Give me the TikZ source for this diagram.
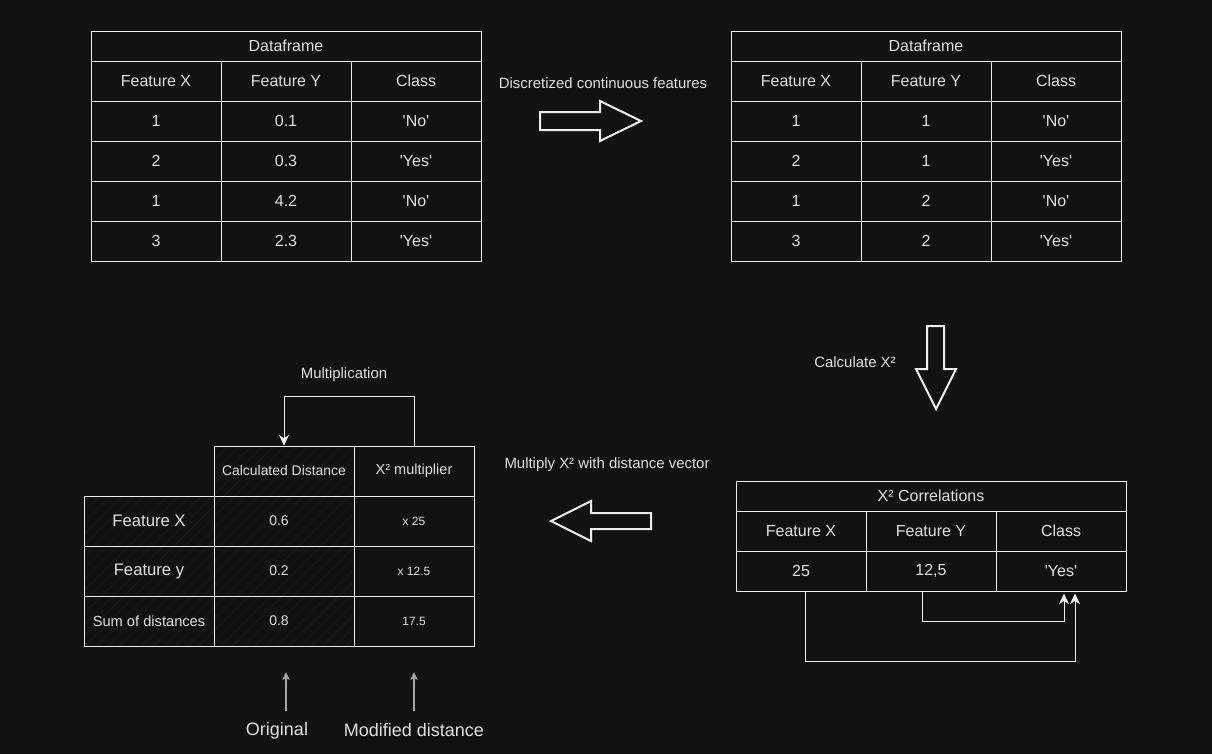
\documentclass[tikz,border=0pt]{standalone}
\usepackage{fontspec}
\setmainfont{Liberation Sans}
\usetikzlibrary{arrows.meta,calc,patterns.meta}
\definecolor{bgc}{HTML}{121212}
\definecolor{hatchc}{HTML}{181818}
\definecolor{linec}{HTML}{EEEEEE}
\definecolor{txtc}{HTML}{E0E0E0}
\definecolor{grayc}{HTML}{A8A8A8}
\newcommand{\sq}{\textquotesingle}
\tikzset{
  cell/.style={draw=linec, line width=0.75pt, inner sep=0pt, minimum width=97.5pt, minimum height=30pt, text=txtc, font=\fontsize{12}{14}\selectfont},
  hcell/.style={cell, minimum width=292.5pt, minimum height=22.5pt},
  bcell/.style={cell, minimum height=37.5pt},
  hatched/.style={pattern={Lines[angle=45,distance=6pt,line width=0.6pt]}, pattern color=hatchc},
  lbl/.style={text=txtc, inner sep=0pt, font=\fontsize{11.2}{13}\selectfont},
  blockarrow/.style={draw=linec, line width=1.5pt, line join=miter},
  conn/.style={draw=linec, line width=0.75pt, -{Stealth[length=8pt,width=7.5pt,inset=2.5pt]}},
  gconn/.style={draw=grayc, line width=1.1pt, -{Stealth[length=6pt,width=5.5pt,inset=1.5pt]}},
}
\begin{document}
\begin{tikzpicture}[x=0.75pt,y=-0.75pt]
\fill[bgc] (0,0) rectangle (1212,754);
\useasboundingbox (0,0) rectangle (1212,754);

% ---------- top-left table ----------
\node[hcell] (a-h) at (286,46) {Dataframe};
\node[cell] (a-0-1) at (156,81) {Feature X};
\node[cell] (a-0-2) at (286,81) {Feature Y};
\node[cell] (a-0-3) at (416,81) {Class};
\node[cell] (a-1-1) at (156,121) {1};
\node[cell] (a-1-2) at (286,121) {0.1};
\node[cell] (a-1-3) at (416,121) {\sq No\sq};
\node[cell] (a-2-1) at (156,161) {2};
\node[cell] (a-2-2) at (286,161) {0.3};
\node[cell] (a-2-3) at (416,161) {\sq Yes\sq};
\node[cell] (a-3-1) at (156,201) {1};
\node[cell] (a-3-2) at (286,201) {4.2};
\node[cell] (a-3-3) at (416,201) {\sq No\sq};
\node[cell] (a-4-1) at (156,241) {3};
\node[cell] (a-4-2) at (286,241) {2.3};
\node[cell] (a-4-3) at (416,241) {\sq Yes\sq};

% ---------- top-right table ----------
\node[hcell] (b-h) at (926,46) {Dataframe};
\node[cell] (b-0-1) at (796,81) {Feature X};
\node[cell] (b-0-2) at (926,81) {Feature Y};
\node[cell] (b-0-3) at (1056,81) {Class};
\node[cell] (b-1-1) at (796,121) {1};
\node[cell] (b-1-2) at (926,121) {1};
\node[cell] (b-1-3) at (1056,121) {\sq No\sq};
\node[cell] (b-2-1) at (796,161) {2};
\node[cell] (b-2-2) at (926,161) {1};
\node[cell] (b-2-3) at (1056,161) {\sq Yes\sq};
\node[cell] (b-3-1) at (796,201) {1};
\node[cell] (b-3-2) at (926,201) {2};
\node[cell] (b-3-3) at (1056,201) {\sq No\sq};
\node[cell] (b-4-1) at (796,241) {3};
\node[cell] (b-4-2) at (926,241) {2};
\node[cell] (b-4-3) at (1056,241) {\sq Yes\sq};

% ---------- X^2 correlations table ----------
\node[hcell] (x-h) at (931,496) {X² Correlations};
\node[cell] (x-1-1) at (801,531) {Feature X};
\node[cell] (x-1-2) at (931,531) {Feature Y};
\node[cell] (x-1-3) at (1061,531) {Class};
\node[cell] (x-2-1) at (801,571) {25};
\node[cell] (x-2-2) at (931,571) {12,5};
\node[cell] (x-2-3) at (1061,571) {\sq Yes\sq};

% ---------- bottom-left table ----------
\node[bcell, hatched, minimum width=105pt, font=\fontsize{10.45}{12}\selectfont] (m-0-2) at (284,471) {Calculated Distance};
\node[bcell, minimum width=90pt, font=\fontsize{10.9}{12}\selectfont] (m-0-3) at (414,471) {X² multiplier};
\node[bcell, hatched, font=\fontsize{12.5}{14}\selectfont] (m-1-1) at (149,521) {Feature X};
\node[bcell, hatched, minimum width=105pt, font=\fontsize{10.5}{12}\selectfont] (m-1-2) at (284,521) {\hspace*{-7.5pt}0.6};
\node[bcell, minimum width=90pt, font=\fontsize{9}{11}\selectfont] (m-1-3) at (414,521) {x 25};
\node[bcell, hatched, font=\fontsize{12.5}{14}\selectfont] (m-2-1) at (149,571) {Feature y};
\node[bcell, hatched, minimum width=105pt, font=\fontsize{10.5}{12}\selectfont] (m-2-2) at (284,571) {\hspace*{-7.5pt}0.2};
\node[bcell, minimum width=90pt, font=\fontsize{9}{11}\selectfont] (m-2-3) at (414,571) {x 12.5};
\node[bcell, hatched, font=\fontsize{11}{13}\selectfont] (m-3-1) at (149,621) {Sum of distances};
\node[bcell, hatched, minimum width=105pt, font=\fontsize{10.5}{12}\selectfont] (m-3-2) at (284,621) {\hspace*{-7.5pt}0.8};
\node[bcell, minimum width=90pt, font=\fontsize{9}{11}\selectfont] (m-3-3) at (414,621) {17.5};

% ---------- labels ----------
\node[lbl] (l-disc) at (603,83) {Discretized continuous features};
\node[lbl] (l-calc) at (855,362) {Calculate X²};
\node[lbl] (l-mult) at (607,465) {Multiply X² with distance vector};
\node[lbl] (l-multiplication) at (344,375) {Multiplication};
\node[lbl, font=\fontsize{13.5}{16}\selectfont] (l-orig) at (277,731) {Original};
\node[lbl, font=\fontsize{13.5}{16}\selectfont] (l-mod) at (414,730) {Modified distance};

% ---------- block arrows ----------
\draw[blockarrow] (540,112) -- (600,112) -- (600,101) -- (641,121) -- (600,141) -- (600,130) -- (540,130) -- cycle;
\draw[blockarrow] (927,326) -- (944,326) -- (944,369) -- (956,369) -- (936,409) -- (916,369) -- (927,369) -- cycle;
\draw[blockarrow] (651,513) -- (591,513) -- (591,501) -- (551,521) -- (591,541) -- (591,529) -- (651,529) -- cycle;

% ---------- connectors ----------
\draw[conn] (m-0-3.north) -- ++(0,-49) -| (m-0-2.north);
\draw[conn] ($(x-2-1.south)+(4,0)$) -- ++(0,70) -| ($(x-2-3.south)+(14,2)$);
\draw[conn] ($(x-2-2.south)+(-9,0)$) -- ++(0,30) -| ($(x-2-3.south)+(3,2)$);

\coordinate (o-s) at (286,711);
\coordinate (o-e) at (286,672);
\coordinate (d-s) at (414,711);
\coordinate (d-e) at (414,672);
\draw[gconn] (o-s) -- (o-e);
\draw[gconn] (d-s) -- (d-e);
\end{tikzpicture}
\end{document}
